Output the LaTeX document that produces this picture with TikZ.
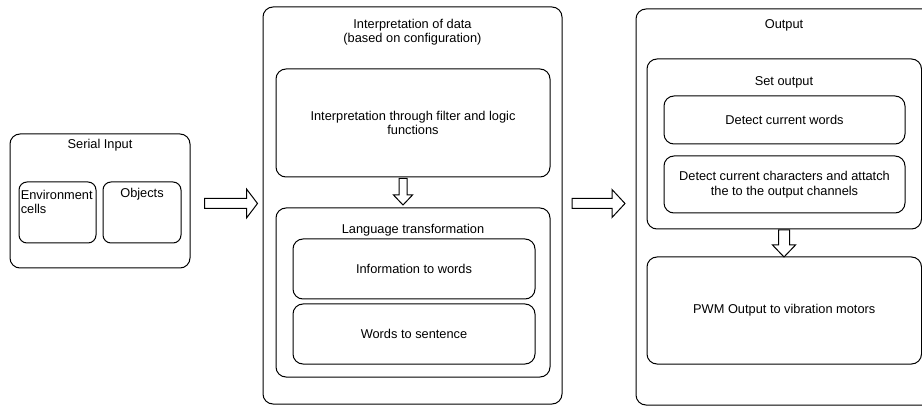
\documentclass[tikz,border=0pt]{standalone}
\usepackage{fontspec}
\setmainfont{Liberation Sans}
\usetikzlibrary{fit}
\begin{document}
\begin{tikzpicture}[x=0.75pt,y=-0.75pt,
  box/.style={draw, line width=0.75pt, rounded corners=7.5pt, inner sep=0pt},
  sbox/.style={box, rounded corners=6pt},
  lbl/.style={font=\fontsize{9.6}{10.8}\selectfont, align=center, inner sep=0pt},
  blockarrow/.style={draw, line width=0.75pt, fill=white, line join=miter}]
\useasboundingbox (0,0) rectangle (922,406);
\clip (0,0) rectangle (922,406);

% Serial input stage
\node[box, fit={(10,134) (190,268)}] (serial) {};
\node[lbl] (serialT) at (100,145) {Serial Input};
\node[sbox, fit={(19,182) (96,243)}] (env) {};
\node[lbl, align=left, anchor=north west] (envT) at (20.5,190) {Environment\\cells};
\node[sbox, fit={(103,182) (181,243)}] (obj) {};
\node[lbl] (objT) at (142,194) {Objects};

% Interpretation stage
\node[box, fit={(263,7) (562,404)}] (interp) {};
\node[lbl] (interpT) at (412.5,32) {Interpretation of data\\(based on configuration)};
\node[box, fit={(276,69) (550,177)}] (filter) {};
\node[lbl] (filterT) at (filter.center) {Interpretation through filter and logic\\functions};
\node[box, fit={(276,208) (550,377)}] (lang) {};
\node[lbl] (langT) at (413,230) {Language transformation};
\node[box, fit={(293,239) (535,299)}] (info) {};
\node[lbl] (infoT) at (info.center) {Information to words};
\node[box, fit={(293,304) (535,364)}] (sent) {};
\node[lbl] (sentT) at (sent.center) {Words to sentence};

% Output stage
\node[box, fit={(636,9) (940,405)}] (output) {};
\node[lbl] (outputT) at (784,25) {Output};
\node[box, fit={(647,59) (921.5,229)}] (setout) {};
\node[lbl] (setoutT) at (784,82) {Set output};
\node[box, fit={(664,96) (905,144)}] (words) {};
\node[lbl] (wordsT) at (words.center) {Detect current words};
\node[box, fit={(664,156) (905,213)}] (chars) {};
\node[lbl] (charsT) at (chars.center) {Detect current characters and attatch\\the to the output channels};
\node[box, fit={(647,257) (921.5,364)}] (pwm) {};
\node[lbl] (pwmT) at (pwm.center) {PWM Output to vibration motors};

% Block arrows between stages
\draw[blockarrow] (204.5,198.5) -- (246.5,198.5) -- (246.5,189) -- (257.5,203.5)
  -- (246.5,218) -- (246.5,208.5) -- (204.5,208.5) -- cycle;
\draw[blockarrow] (572,198.5) -- (612,198.5) -- (612,189.5) -- (625,203.5)
  -- (612,217.5) -- (612,208.5) -- (572,208.5) -- cycle;
\draw[blockarrow] (399,178.5) -- (407,178.5) -- (407,195) -- (412.5,195) -- (403,205)
  -- (393.5,195) -- (399,195) -- cycle;
\draw[blockarrow] (778.5,230) -- (789.5,230) -- (789.5,245) -- (795.5,245) -- (784,257)
  -- (772.5,245) -- (778.5,245) -- cycle;
\end{tikzpicture}
\end{document}
